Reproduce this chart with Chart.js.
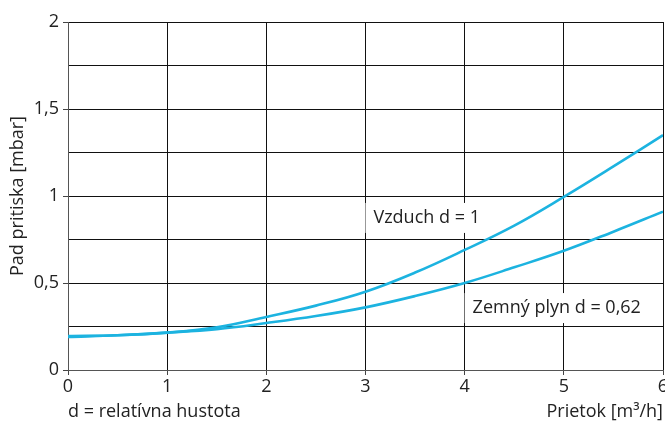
<!DOCTYPE html>
<html>
<head>
<meta charset="utf-8">
<script src="https://cdn.jsdelivr.net/npm/chart.js@4/dist/chart.umd.min.js"></script>
<style>
  html, body { margin: 0; padding: 0; background: #fff; }
  canvas { display: block; }
</style>
</head>
<body>
<canvas id="graf" width="665" height="425" style="width:665px;height:425px"></canvas>
<script>
// prietok [m3/h] a pad pritiska [mbar] odcitane z grafu
const prietok = [0, 0.5, 1, 1.5, 2, 2.5, 3, 3.5, 4, 4.5, 5, 5.5, 6];
const vzduch = [0.195, 0.2, 0.215, 0.245, 0.305, 0.37, 0.45, 0.56, 0.69, 0.83, 0.995, 1.17, 1.35];
const zemnyPlyn = [0.19, 0.2, 0.215, 0.235, 0.27, 0.31, 0.36, 0.425, 0.5, 0.59, 0.685, 0.795, 0.91];
const yPopisy = [0, 0.5, 1, 1.5, 2];
const xPopisy = [0, 1, 2, 3, 4, 5, 6];

const FONT = "'Open Sans', sans-serif";
const farbaCiary = "#1cb3e0";
const ctx = document.getElementById("graf").getContext("2d");

function body(ys) {
  return prietok.map((x, i) => ({ x: x, y: ys[i] }));
}

function ciarka(v) {
  return v.toString().replace(".", ",");
}

// popisky kriviek a osi
const popisky = {
  id: "popisky",
  beforeDatasetsDraw(chart) {
    const c = chart.ctx;
    const sx = chart.scales.x;
    const sy = chart.scales.y;
    c.save();
    c.font = "18px " + FONT;
    c.textBaseline = "middle";
    c.textAlign = "left";
    const texty = [
      { t: "Vzduch d = 1", x: 3.08, y: 0.874 },
      { t: "Zemný plyn d = 0,62", x: 4.08, y: 0.356 }
    ];
    texty.forEach((p) => {
      const px = sx.getPixelForValue(p.x);
      const py = sy.getPixelForValue(p.y);
      const w = c.measureText(p.t).width;
      c.fillStyle = "#fff";
      c.fillRect(px - 8, py - 15, w + 14, 30);
      c.fillStyle = "#222";
      c.fillText(p.t, px, py);
    });
    c.restore();
  },
  afterDraw(chart) {
    const c = chart.ctx;
    const a = chart.chartArea;
    c.save();
    c.fillStyle = "#222";
    c.font = "18px " + FONT;
    c.textBaseline = "middle";
    c.textAlign = "left";
    c.fillText("d = relatívna hustota", a.left, 412);
    c.textAlign = "right";
    c.fillText("Prietok [m³/h]", a.right, 412);
    c.translate(18, (a.top + a.bottom) / 2);
    c.rotate(-Math.PI / 2);
    c.textAlign = "center";
    c.fillText("Pad pritiska [mbar]", 0, 0);
    c.restore();
  }
};

new Chart(ctx, {
  type: "line",
  data: {
    datasets: [
      {
        label: "Vzduch d = 1",
        data: body(vzduch),
        borderColor: farbaCiary,
        borderWidth: 2.6,
        pointRadius: 0,
        tension: 0.4,
        fill: false
      },
      {
        label: "Zemný plyn d = 0,62",
        data: body(zemnyPlyn),
        borderColor: farbaCiary,
        borderWidth: 2.6,
        pointRadius: 0,
        tension: 0.4,
        fill: false
      }
    ]
  },
  options: {
    responsive: false,
    animation: false,
    layout: { padding: { top: 22, right: 2, left: 0, bottom: 0 } },
    plugins: {
      legend: { display: false },
      tooltip: { enabled: false }
    },
    scales: {
      x: {
        type: "linear",
        min: 0,
        max: 6,
        afterFit(s) {
          s.height = 55;
          s.paddingLeft = 0;
          s.paddingRight = 0;
        },
        afterBuildTicks(s) { s.ticks = xPopisy.map((v) => ({ value: v })); },
        ticks: {
          color: "#222",
          font: { family: FONT, size: 18 },
          padding: 1,
          maxRotation: 0,
          callback: (v) => ciarka(v)
        },
        grid: { color: "#111", lineWidth: 1, tickLength: 5, tickColor: "#444" },
        border: { color: "#555", width: 1 }
      },
      y: {
        min: 0,
        max: 2,
        afterFit(s) {
          s.width = 68;
          s.paddingTop = 0;
          s.paddingBottom = 0;
        },
        ticks: {
          stepSize: 0.25,
          color: "#222",
          font: { family: FONT, size: 18 },
          padding: 4,
          callback: (v) => (yPopisy.includes(v) ? ciarka(v) : "")
        },
        grid: {
          color: "#111",
          lineWidth: 1,
          tickLength: 5,
          tickColor: (c) => (c.tick && yPopisy.includes(c.tick.value) ? "#444" : "rgba(0,0,0,0)")
        },
        border: { color: "#555", width: 1 }
      }
    }
  },
  plugins: [popisky]
});
</script>
</body>
</html>
